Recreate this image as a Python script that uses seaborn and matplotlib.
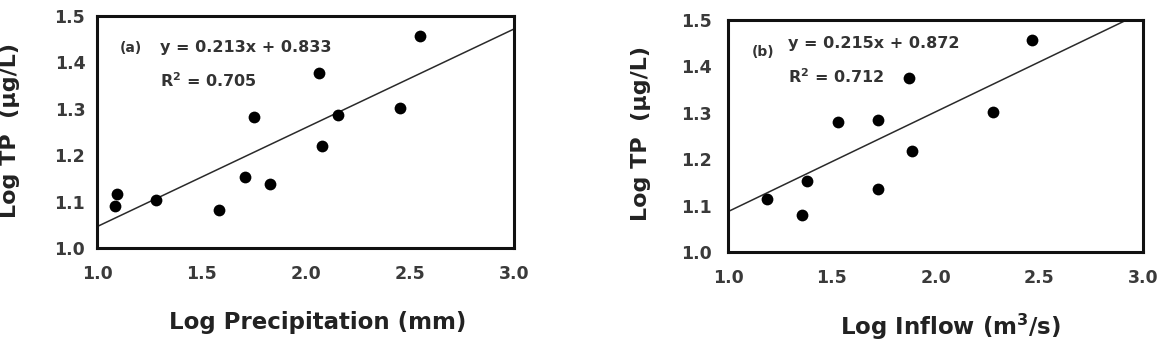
import numpy as np
import pandas as pd
import matplotlib
matplotlib.use("Agg")
import matplotlib.pyplot as plt
import seaborn as sns

# ---- data ----
precip_x = [1.086, 1.094, 1.285, 1.583, 1.708, 1.752, 1.829, 2.064, 2.078, 2.155, 2.453, 2.551]
precip_y = [1.090, 1.117, 1.104, 1.082, 1.153, 1.282, 1.138, 1.378, 1.220, 1.286, 1.302, 1.457]
inflow_x = [1.189, 1.355, 1.382, 1.532, 1.721, 1.721, 1.874, 1.886, 2.279, 2.463]
inflow_y = [1.114, 1.080, 1.152, 1.281, 1.284, 1.135, 1.376, 1.218, 1.301, 1.456]
fit_slope = [0.213, 0.215]
fit_intercept = [0.833, 0.872]
fit_r2 = [0.705, 0.712]
panel_tags = ["(a)", "(b)"]
x_labels = ["Log Precipitation (mm)", "Log Inflow (m$^3$/s)"]
y_label = "Log TP  (\u03bcg/L)"
x_ticks = [1.0, 1.5, 2.0, 2.5, 3.0]
y_ticks = [1.0, 1.1, 1.2, 1.3, 1.4, 1.5]

sns.set_style("white")
plt.rcParams['font.family'] = ['DejaVu Sans']
plt.rcParams['font.weight'] = 'bold'
plt.rcParams['mathtext.default'] = 'bf'

W, H = 1165, 350
fig = plt.figure(figsize=(W / 100, H / 100), dpi=100)

def px_axes(l, t, r, b):
    return fig.add_axes([l / W, 1 - b / H, (r - l) / W, (b - t) / H])

axes = [px_axes(97, 16, 514, 248), px_axes(728, 20, 1143, 252)]
datasets = [(precip_x, precip_y), (inflow_x, inflow_y)]
ypads = [6.0, 9.5]

for i, ax in enumerate(axes):
    xs, ys = datasets[i]
    df = pd.DataFrame({"x": xs, "y": ys})
    xl = np.array([1.0, 3.0])
    line_df = pd.DataFrame({"x": xl, "y": fit_slope[i] * xl + fit_intercept[i]})
    sns.lineplot(data=line_df, x="x", y="y", ax=ax, color="#2a2a2a", linewidth=1.1)
    sns.scatterplot(data=df, x="x", y="y", ax=ax, color="black", s=72,
                    edgecolor="black", linewidth=0, zorder=3)
    ax.set_xlim(1.0, 3.0)
    ax.set_ylim(1.0, 1.5)
    ax.set_xticks(x_ticks)
    ax.set_yticks(y_ticks)
    ax.set_xticklabels([f"{v:.1f}" for v in x_ticks], fontsize=12.5, fontweight="bold", color="#3a3a3a")
    ax.set_yticklabels([f"{v:.1f}" for v in y_ticks], fontsize=12.5, fontweight="bold", color="#3a3a3a")
    ax.tick_params(axis="y", direction="out", length=2.5, width=1, color="#333333", pad=ypads[i])
    ax.tick_params(axis="x", direction="out", length=0, width=1, color="#333333", pad=12)
    for sp in ax.spines.values():
        sp.set_visible(True)
        sp.set_color("#111111")
        sp.set_linewidth(2.2)
    ax.set_xlabel("")
    ax.set_ylabel("")

def ftxt(x, y, s, **kw):
    fig.text(x / W, 1 - y / H, s, **kw)

lab_kw = dict(fontsize=16.5, fontweight="bold", ha="center", va="center", color="#222222")
ftxt(318, 323, x_labels[0], **lab_kw)
ftxt(950, 327, x_labels[1], **lab_kw)
ftxt(10, 130, y_label, rotation=90, **{**lab_kw, "fontsize": 16})
ftxt(641, 134, y_label, rotation=90, **{**lab_kw, "fontsize": 16})

# annotations
ann_kw = dict(fontsize=11.5, fontweight="bold", va="baseline", color="#333333")
ftxt(120, 52, panel_tags[0], **{**ann_kw, "fontsize": 10})
ftxt(160, 52, f"y = {fit_slope[0]:.3f}x + {fit_intercept[0]:.3f}", **ann_kw)
ftxt(160, 87, f"R$^2$ = {fit_r2[0]:.3f}", **ann_kw)
ftxt(752, 56, panel_tags[1], **{**ann_kw, "fontsize": 10})
ftxt(788, 48, f"y = {fit_slope[1]:.3f}x + {fit_intercept[1]:.3f}", **ann_kw)
ftxt(788, 83, f"R$^2$ = {fit_r2[1]:.3f}", **ann_kw)

fig.savefig("out.png", dpi=100, facecolor="white")
